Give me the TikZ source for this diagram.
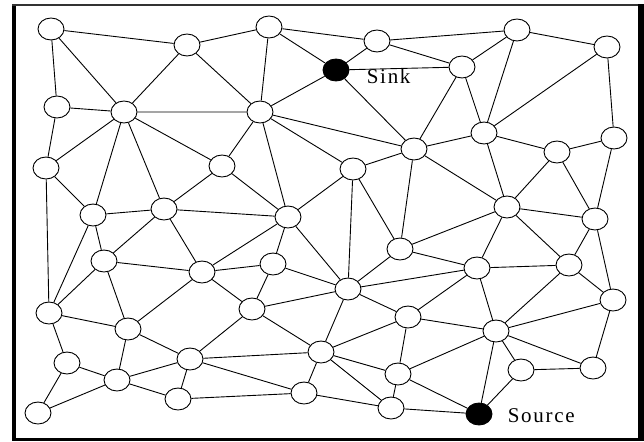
\documentclass[tikz,border=0pt]{standalone}
\usepackage{fontspec}
\setmainfont{Liberation Serif}
\newfontfamily\lblfont[LetterSpace=8]{Liberation Serif}
\usetikzlibrary{positioning}
\usetikzlibrary{shapes.geometric}
\tikzset{nd/.style={draw,ellipse,fill=white,minimum width=26pt,minimum height=22pt,inner sep=0pt}}
\tikzset{hub/.style={nd,fill=black}}
\tikzset{lbl/.style={inner sep=0pt,font=\lblfont\fontsize{21}{24}\selectfont}}

\begin{document}
\begin{tikzpicture}[x=1pt, y=-1pt, line width=0.9pt]
        \useasboundingbox (0,0) rectangle (644,441);
        % frame
        \fill (12,4) rectangle (16,441);
        \fill[black!80] (12,4) rectangle (644,6.5);
        \fill (638,4) rectangle (644,441);
        \fill (12,437.5) rectangle (644,441);
        % rows of sensors, top to bottom
        \node[nd] (a1) at (51,29) {};
        \node[nd] (a2) at (187,45) {};
        \node[nd] (a3) at (269,27) {};
        \node[nd] (a4) at (377,41) {};
        \node[nd] (a5) at (517,30) {};
        \node[nd] (a6) at (607,47) {};
        \node[nd] (b1) at (57,107) {};
        \node[nd] (b2) at (124,112) {};
        \node[nd] (b3) at (260,112) {};
        \node[hub] (Sink) at (336,70) {};
        \node[nd] (b4) at (462,67) {};
        \node[nd] (c1) at (46,168) {};
        \node[nd] (c2) at (222,166) {};
        \node[nd] (c3) at (353,169) {};
        \node[nd] (c4) at (414,149) {};
        \node[nd] (c5) at (484,133) {};
        \node[nd] (c6) at (557,152) {};
        \node[nd] (c7) at (614,138) {};
        \node[nd] (d1) at (93,215) {};
        \node[nd] (d2) at (164,209) {};
        \node[nd] (d3) at (288,217) {};
        \node[nd] (d4) at (507,207) {};
        \node[nd] (d5) at (595,219) {};
        \node[nd] (e1) at (104,261) {};
        \node[nd] (e2) at (202,272) {};
        \node[nd] (e3) at (273,264) {};
        \node[nd] (e4) at (400,249) {};
        \node[nd] (e5) at (477,268) {};
        \node[nd] (e6) at (569,265) {};
        \node[nd] (f1) at (49,313) {};
        \node[nd] (f2) at (128,329) {};
        \node[nd] (f3) at (252,309) {};
        \node[nd] (f4) at (348,289) {};
        \node[nd] (f5) at (408,317) {};
        \node[nd] (f6) at (496,331) {};
        \node[nd] (f7) at (613,300) {};
        \node[nd] (g1) at (67,363) {};
        \node[nd] (g2) at (190,359) {};
        \node[nd] (g3) at (321,352) {};
        \node[nd] (g4) at (398,374) {};
        \node[nd] (g5) at (521,370) {};
        \node[nd] (g6) at (593,368) {};
        \node[nd] (h1) at (38,413) {};
        \node[nd] (h2) at (117,380) {};
        \node[nd] (h3) at (178,399) {};
        \node[nd] (h4) at (304,393) {};
        \node[nd] (h5) at (391,408) {};
        \node[hub] (Source) at (479,414) {};
        \node[lbl, right=17pt of Sink, yshift=-6pt] (sinklbl) {Sink};
        \node[lbl, right=15pt of Source, yshift=-2pt] (sourcelbl) {Source};
        % links
        \draw (a1) -- (a2) -- (a3) -- (a4) -- (a5) -- (a6);
        \draw (a1) -- (b1) -- (b2) -- (b3);
        \draw (a1) -- (b2) -- (a2) -- (b3) -- (a3) -- (Sink) -- (a4) -- (b4) -- (a5) -- (c5) -- (a6) -- (c7);
        \draw (b1) -- (c1) -- (b2) -- (c2) -- (b3) -- (Sink) -- (b4) -- (c4) -- (Sink);
        \draw (b3) -- (c4) (b3) -- (c3) (b3) -- (d3);
        \draw (b4) -- (c5) -- (c4) -- (c3);
        \draw (c5) -- (c6) -- (c7) -- (d5) -- (c6) -- (d4) -- (c5);
        \draw (c4) -- (d4) -- (d5);
        \draw (c1) -- (d1) -- (b2) -- (d2) -- (c2) -- (d3) -- (c3);
        \draw (d1) -- (d2) -- (d3);
        \draw (c1) -- (f1) -- (d1) -- (e1) -- (d2) -- (e2) -- (d3) -- (e3);
        \draw (d3) -- (f4) -- (c3) -- (e4) -- (c4);
        \draw (e4) -- (d4) -- (e5) -- (e4) -- (f4);
        \draw (d4) -- (e6) -- (d5) -- (f7) -- (e6) -- (e5);
        \draw (e5) -- (f4) (e5) -- (f5) (e5) -- (f6) -- (e6);
        \draw (f7) -- (f6) -- (f5) -- (f4) -- (e3) -- (e2) -- (e1) -- (f1) -- (f2) -- (e1);
        \draw (e2) -- (f2) (e2) -- (f3) -- (e3);
        \draw (f3) -- (f4) -- (g3) -- (f5) -- (g4) -- (f6) -- (Source);
        \draw (f6) -- (g5) -- (g6) -- (f6);
        \draw (f7) -- (g6);
        \draw (g5) -- (Source) -- (g4) -- (g3) -- (h5) -- (g4);
        \draw (Source) -- (h5) -- (h4) -- (g3) -- (f3) -- (g2) -- (g3);
        \draw (f1) -- (g1) -- (h2) -- (f2) -- (g2) -- (h2) -- (h1) -- (g1);
        \draw (h2) -- (h3) -- (g2) -- (h4) -- (h3);
\end{tikzpicture}
\end{document}
